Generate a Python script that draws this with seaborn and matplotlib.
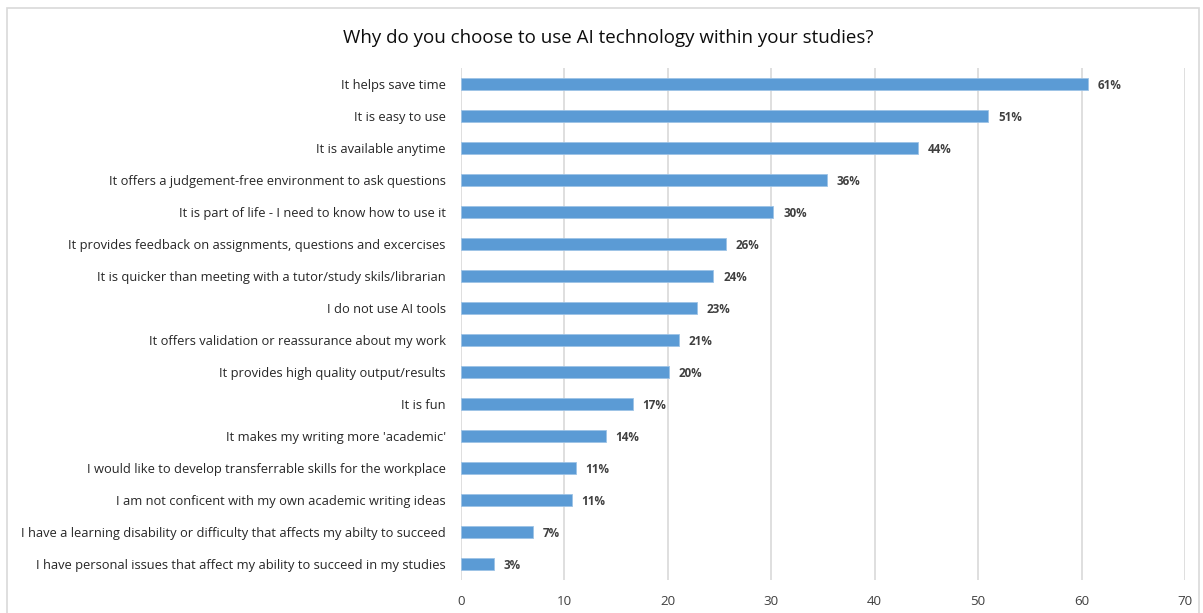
import matplotlib
matplotlib.use("Agg")
import matplotlib.pyplot as plt
import seaborn as sns
import pandas as pd
from matplotlib.patches import Rectangle

categories = [
    "It helps save time",
    "It is easy to use",
    "It is available anytime",
    "It offers a judgement-free environment to ask questions",
    "It is part of life - I need to know how to use it",
    "It provides feedback on assignments, questions and excercises",
    "It is quicker than meeting with a tutor/study skils/librarian",
    "I do not use AI tools",
    "It offers validation or reassurance about my work",
    "It provides high quality output/results",
    "It is fun",
    "It makes my writing more 'academic'",
    "I would like to develop transferrable skills for the workplace",
    "I am not conficent with my own academic writing ideas",
    "I have a learning disability or difficulty that affects my abilty to succeed",
    "I have personal issues that affect my ability to succeed in my studies",
]
values = [60.6, 51.0, 44.2, 35.4, 30.2, 25.6, 24.4, 22.8, 21.1, 20.1, 16.6, 14.0, 11.1, 10.7, 7.0, 3.2]
value_labels = ["61%", "51%", "44%", "36%", "30%", "26%", "24%", "23%", "21%", "20%",
                "17%", "14%", "11%", "11%", "7%", "3%"]
x_ticks = [0, 10, 20, 30, 40, 50, 60, 70]
title = "Why do you choose to use AI technology within your studies?"

sns.set_theme(style="white")
plt.rcParams['font.family'] = ['Open Sans', 'DejaVu Sans']

df = pd.DataFrame({"cat": categories, "val": values})

W, H = 1203, 613
fig = plt.figure(figsize=(W / 100, H / 100), dpi=100)
ax = fig.add_axes([461 / W, 1 - 580 / H, (1185 - 461) / W, (580 - 68) / H])

sns.barplot(data=df, y="cat", x="val", orient="h", color="#5B9BD5",
            saturation=1, width=0.37, ax=ax, edgecolor="#9DC3E6", linewidth=0.6)

ax.set_xlim(0, 70)
ax.set_ylim(15.5, -0.5)
ax.set_xticks(x_ticks)
ax.set_xticklabels([str(t) for t in x_ticks])
ax.xaxis.grid(True, color="#D9D9D9", linewidth=1.2)
ax.set_axisbelow(True)
for s in ax.spines.values():
    s.set_visible(False)
ax.tick_params(axis="both", length=0)
ax.tick_params(axis="y", pad=11, labelsize=9.3, labelcolor="#262626")
ax.tick_params(axis="x", pad=11, labelsize=9.6, labelcolor="#404040")
ax.set_xlabel("")
ax.set_ylabel("")

for i, (v, lab) in enumerate(zip(values, value_labels)):
    ax.annotate(lab, xy=(v, i), xytext=(7, 0), textcoords="offset points",
                va="center_baseline", ha="left", fontsize=8.4, fontweight="bold",
                color="#404040")

fig.text(608 / W, 1 - 38 / H, title, ha="center", va="center", fontsize=13.5, color="#0D0D0D")

fig.patches.append(Rectangle((7 / W, -0.05), (1199 - 7) / W, 1.05 - 8 / H,
                             transform=fig.transFigure, fill=False,
                             edgecolor="#D9D9D9", linewidth=1.2))

fig.savefig("out.png", dpi=100, facecolor="white")
